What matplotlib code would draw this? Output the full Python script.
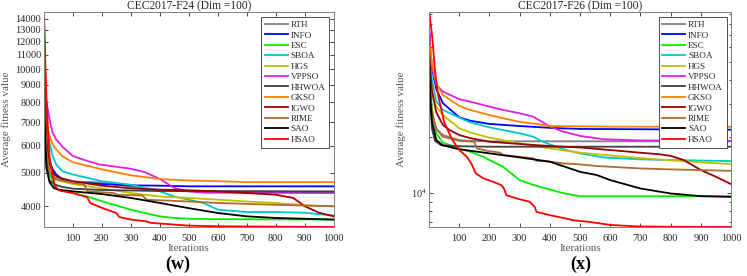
import matplotlib
matplotlib.use("Agg")
import matplotlib.pyplot as plt
from matplotlib.ticker import FixedLocator, FuncFormatter, NullFormatter, NullLocator, LogLocator, LogFormatterSciNotation

plt.rcParams["font.family"] = ["Liberation Serif", "DejaVu Serif"]
plt.rcParams["mathtext.fontset"] = "stix"

algos = ["RTH", "INFO", "ESC", "SBOA", "HGS", "VPPSO", "HHWOA", "GKSO", "IGWO", "RIME", "SAO", "HSAO"]
colors = ["#808080", "#0000ff", "#00ee00", "#00c8c8", "#c0c000", "#e020e0",
          "#404040", "#ff8000", "#990000", "#b06a30", "#000000", "#ff0000"]

# ---------------- CEC2017-F24 (Dim = 100) ----------------
f24_it = {
    "RTH":   [1, 3, 6, 10, 20, 40, 100, 200, 300, 400, 500, 1000],
    "INFO":  [1, 3, 6, 10, 20, 31, 43, 65, 100, 200, 300, 400, 500, 1000],
    "ESC":   [1, 3, 5, 10, 20, 35, 50, 100, 150, 200, 300, 400, 450, 500, 600, 1000],
    "SBOA":  [1, 3, 8, 20, 31, 43, 65, 100, 200, 300, 400, 450, 550, 600, 700, 800, 900, 1000],
    "HGS":   [1, 3, 6, 10, 20, 35, 50, 100, 200, 300, 400, 500, 600, 700, 800, 900, 1000],
    "VPPSO": [1, 3, 8, 20, 31, 43, 65, 100, 134, 192, 300, 350, 400, 450, 500, 550, 1000],
    "HHWOA": [1, 3, 5, 10, 20, 40, 60, 100, 200, 400, 1000],
    "GKSO":  [1, 4, 8, 20, 31, 43, 65, 100, 200, 300, 400, 500, 600, 700, 1000],
    "IGWO":  [1, 3, 6, 10, 20, 35, 50, 100, 200, 300, 400, 500, 600, 700, 800, 860, 900, 950, 1000],
    "RIME":  [1, 3, 6, 10, 20, 35, 50, 100, 140, 150, 240, 255, 340, 355, 500, 600, 800, 1000],
    "SAO":   [1, 3, 6, 10, 20, 35, 50, 100, 200, 300, 400, 500, 600, 700, 800, 900, 1000],
    "HSAO":  [1, 3, 6, 10, 15, 20, 30, 40, 55, 100, 150, 160, 200, 250, 260, 300, 350, 370, 400,
              500, 600, 1000],
}
f24_val = {
    "RTH":   [10500, 7600, 6300, 5500, 4950, 4780, 4720, 4690, 4560, 4450, 4420, 4420],
    "INFO":  [11000, 8800, 7200, 6200, 5410, 5120, 4950, 4780, 4700, 4640, 4600, 4590, 4570, 4570],
    "ESC":   [14600, 11000, 8800, 6400, 5000, 4620, 4470, 4370, 4270, 4140, 3910, 3740, 3700, 3680, 3670, 3660],
    "SBOA":  [12500, 10000, 7150, 6110, 5585, 5290, 5050, 4950, 4730, 4620, 4420, 4270, 4090, 3910,
              3850, 3850, 3830, 3760],
    "HGS":   [11500, 9000, 7400, 6300, 5300, 4900, 4750, 4640, 4510, 4370, 4270, 4230, 4180, 4130, 4090, 4030, 4000],
    "VPPSO": [14000, 11500, 8200, 7150, 6530, 6250, 5950, 5600, 5470, 5290, 5140, 5020, 4800, 4520,
              4420, 4380, 4370],
    "HHWOA": [9500, 7000, 5900, 5100, 4750, 4620, 4560, 4500, 4460, 4430, 4410],
    "GKSO":  [12000, 9000, 7000, 6390, 6040, 5850, 5585, 5370, 5120, 4920, 4800, 4750, 4730, 4700, 4700],
    "IGWO":  [13000, 9500, 7400, 6200, 5300, 4960, 4850, 4730, 4590, 4510, 4470, 4450, 4420, 4370, 4320,
              4230, 4000, 3830, 3740],
    "RIME":  [10000, 8000, 6600, 5700, 5050, 4850, 4780, 4680, 4630, 4420, 4370, 4320, 4300, 4180, 4130,
              4090, 4040, 4000],
    "SAO":   [9000, 7200, 6000, 5200, 4700, 4520, 4470, 4420, 4340, 4230, 4090, 3950, 3825, 3740, 3700, 3680, 3660],
    "HSAO":  [14500, 12500, 10000, 8000, 6600, 5600, 4900, 4560, 4440, 4370, 4250, 4090, 3960, 3825, 3725,
              3660, 3620, 3580, 3565, 3515, 3500, 3483],
}

# ---------------- CEC2017-F26 (Dim = 100) ----------------
f26_it = {
    "RTH":   [1, 5, 10, 25, 46, 100, 135, 200, 1000],
    "INFO":  [1, 5, 10, 24, 46, 100, 135, 200, 300, 400, 500, 1000],
    "ESC":   [1, 5, 10, 24, 46, 100, 135, 180, 200, 245, 300, 356, 400, 444, 500, 1000],
    "SBOA":  [1, 5, 10, 24, 46, 100, 135, 200, 300, 345, 367, 400, 455, 500, 577, 700, 800, 1000],
    "HGS":   [1, 5, 10, 24, 46, 100, 135, 200, 300, 400, 500, 600, 700, 800, 900, 1000],
    "VPPSO": [1, 5, 10, 24, 46, 100, 135, 200, 245, 300, 345, 378, 400, 444, 500, 577, 700, 1000],
    "HHWOA": [1, 5, 10, 20, 40, 100, 200, 1000],
    "GKSO":  [1, 5, 10, 24, 46, 100, 135, 200, 245, 300, 356, 400, 600, 1000],
    "IGWO":  [1, 5, 10, 24, 46, 68, 100, 135, 200, 300, 400, 500, 600, 700, 765, 800, 843, 900, 950, 1000],
    "RIME":  [1, 5, 10, 24, 46, 100, 150, 158, 190, 235, 245, 300, 345, 356, 400, 444, 500, 555, 600, 700,
              800, 1000],
    "SAO":   [1, 5, 10, 24, 46, 100, 135, 200, 300, 400, 500, 555, 600, 700, 800, 900, 1000],
    "HSAO":  [1, 10, 20, 30, 50, 75, 100, 125, 140, 155, 180, 212, 240, 248, 256, 290, 333, 350, 356,
              400, 455, 477, 533, 600, 687, 800, 1000],
}
f26_val = {
    "RTH":   [40000, 31000, 26000, 22000, 20400, 19200, 19000, 18900, 18900],
    "INFO":  [72000, 56000, 46000, 36000, 30170, 25400, 24370, 23400, 22800, 22300, 22000, 21800],
    "ESC":   [50000, 36000, 28000, 20850, 18600, 17330, 16640, 15640, 15020, 13830, 11740, 10920, 10460,
              10000, 9630, 9630],
    "SBOA":  [58000, 47000, 40000, 31000, 27790, 25300, 23900, 22430, 20850, 20010, 19100, 18200, 16980,
              16300, 15510, 15140, 15020, 14830],
    "HGS":   [50000, 42000, 35000, 29000, 26100, 22200, 21100, 19800, 18430, 17330, 16430, 15900, 15390,
              14960, 14600, 14290],
    "VPPSO": [75000, 58000, 47000, 37800, 34800, 31700, 30800, 28950, 27790, 26670, 25600, 23800, 22630,
              21300, 20200, 19400, 19100, 19000],
    "HHWOA": [51400, 30000, 22000, 19000, 18000, 17800, 17690, 17690],
    "GKSO":  [65000, 56000, 49000, 38600, 33400, 29200, 27800, 26100, 25100, 24000, 23400, 22800, 22630, 22600],
    "IGWO":  [55000, 43000, 35000, 27000, 23100, 21720, 20430, 19670, 18810, 18290, 17830, 17530, 16980,
              16430, 16110, 15800, 15020, 13280, 12230, 11170],
    "RIME":  [45000, 33000, 27000, 22000, 20000, 19000, 18800, 17340, 16850, 16440, 15970, 15640, 15330,
              14890, 14720, 14410, 14240, 13950, 13830, 13550, 13390, 13160],
    "SAO":   [48000, 31000, 24000, 19200, 18000, 17120, 16850, 16300, 15510, 14720, 12990, 12500, 11740,
              10590, 9960, 9640, 9560],
    "HSAO":  [92000, 70000, 44700, 33400, 24000, 19500, 17000, 15640, 14400, 12740, 11990, 11500, 11030,
              10600, 9760, 9370, 9000, 8450, 7950, 7630, 7320, 7170, 7020, 6770, 6650, 6620, 6600],
}

x_ticks = [100, 200, 300, 400, 500, 600, 700, 800, 900, 1000]
f24_yticks = [4000, 5000, 6000, 7000, 8000, 9000, 10000, 11000, 12000, 13000, 14000]

txt_col = "#262626"
edge_col = "#7f7f7f"

fig = plt.figure(figsize=(7.47, 2.76), dpi=100)
ax1 = fig.add_axes([0.0589, 0.1775, 0.388, 0.7775])
ax2 = fig.add_axes([0.5747, 0.1775, 0.404, 0.7775])


def draw_panel(ax, its, vals, title):
    for name, c in zip(algos, colors):
        ax.semilogy(its[name], vals[name], color=c, lw=1.3, label=name)
    ax.set_xlim(1, 1000)
    ax.set_xticks(x_ticks)
    ax.set_title(title, fontsize=8.3, color=txt_col, pad=2.5)
    ax.set_xlabel("Iterations", fontsize=8, color="#555555", labelpad=1)
    ax.set_ylabel("Average fitness value", fontsize=8, color="#555555", labelpad=3)
    ax.tick_params(which="both", direction="in", top=True, right=True, colors=txt_col,
                   labelsize=7.5, length=3, width=0.6, pad=2)
    ax.tick_params(axis="x", pad=5)
    ax.tick_params(which="minor", length=1.8)
    for sp in ax.spines.values():
        sp.set_color(edge_col)
        sp.set_linewidth(0.7)
    leg = ax.legend(loc="upper right", fontsize=6.6, handlelength=2.5, handletextpad=0.3,
                    labelspacing=0.22, borderpad=0.4, fancybox=False, framealpha=1,
                    borderaxespad=0.5)
    leg.get_frame().set_edgecolor("#333333")
    leg.get_frame().set_linewidth(0.6)
    for t in leg.get_texts():
        t.set_color(txt_col)


draw_panel(ax1, f24_it, f24_val, "CEC2017-F24 (Dim =100)")
ax1.set_ylim(3483, 14600)
ax1.yaxis.set_major_locator(FixedLocator(f24_yticks))
ax1.yaxis.set_major_formatter(FuncFormatter(lambda v, p: "%d" % v))
ax1.yaxis.set_minor_locator(NullLocator())

draw_panel(ax2, f26_it, f26_val, "CEC2017-F26 (Dim =100)")
ax2.set_ylim(6600, 92000)
ax2.yaxis.set_major_locator(LogLocator(base=10))
ax2.yaxis.set_major_formatter(LogFormatterSciNotation())
ax2.yaxis.set_minor_locator(LogLocator(base=10, subs=range(2, 10)))
ax2.yaxis.set_minor_formatter(NullFormatter())

fig.text(0.238, 0.042, "(w)", fontsize=13, fontweight="bold", ha="center", va="center", color="black")
fig.text(0.777, 0.042, "(x)", fontsize=13, fontweight="bold", ha="center", va="center", color="black")

fig.savefig("out.png", dpi=100)
